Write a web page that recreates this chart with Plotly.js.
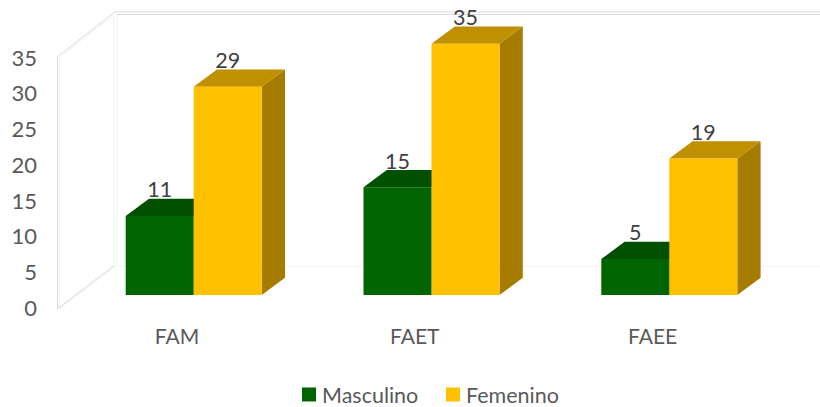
<!DOCTYPE html>
<html>
<head>
<meta charset="utf-8">
<script src="https://cdn.plot.ly/plotly-3.0.1.min.js"></script>
<style>html,body{margin:0;padding:0;background:#fff}#chart{width:820px;height:407px}</style>
</head>
<body>
<div id="chart"></div>
<script>
const categories = ['FAM', 'FAET', 'FAEE'];
const masculino = [11, 15, 5];
const femenino = [29, 35, 19];
const axisTicks = [0, 5, 10, 15, 20, 25, 30, 35];

const W = 820, H = 407;
const groupPx = 237.8, originX = 193.7;
const unitPx = 7.18, originY = 295;
const barW = 68 / groupPx;
const depthX = 23.3 / groupPx, depthY = 17.3 / unitPx;

const xRange = [-originX / groupPx, (W - originX) / groupPx];
const yRange = [(originY - H) / unitPx, originY / unitPx];
const idx = categories.map((_, i) => i);

function faces(values, left, kind) {
  const xs = [], ys = [];
  values.forEach((v, i) => {
    const a = i + left, b = a + barW;
    if (kind === 'top') {
      xs.push(a, b, b + depthX, a + depthX, a, null);
      ys.push(v, v, v + depthY, v + depthY, v, null);
    } else {
      xs.push(b, b + depthX, b + depthX, b, b, null);
      ys.push(0, depthY, v + depthY, v, 0, null);
    }
  });
  return [xs, ys];
}
function face(values, left, kind, color) {
  const [x, y] = faces(values, left, kind);
  return {type: 'scatter', mode: 'lines', x, y, fill: 'toself', fillcolor: color,
    line: {width: 0, color}, hoverinfo: 'skip', showlegend: false, xaxis: 'x', yaxis: 'y'};
}
function bar(name, values, off, color) {
  return {type: 'bar', name, x: idx, y: values, width: barW, offset: off,
    marker: {color, line: {width: 0}}, xaxis: 'x2', yaxis: 'y2'};
}
function labels(values, center) {
  return {type: 'scatter', mode: 'text', x: idx.map(i => i + center), y: values.map(v => v + depthY - 0.55),
    text: values.map(String), textposition: 'top center',
    textfont: {family: 'Lato, sans-serif', size: 21.5, color: '#404040'},
    hoverinfo: 'skip', showlegend: false, xaxis: 'x2', yaxis: 'y2'};
}

const traces = [
  face(masculino, -barW, 'side', '#004a00'),
  face(masculino, -barW, 'top', '#005000'),
  face(femenino, 0, 'side', '#a57c00'),
  face(femenino, 0, 'top', '#bf9000'),
  bar('Masculino', masculino, -barW, '#006400'),
  bar('Femenino', femenino, 0, '#ffc000'),
  labels(masculino, -barW / 2),
  labels(femenino, barW / 2),
  {type: 'scatter', mode: 'markers', x: categories, y: axisTicks.slice(0, 3), marker: {opacity: 0},
   hoverinfo: 'skip', showlegend: false, xaxis: 'x3', yaxis: 'y3'}
];

const px = (x) => x / W, py = (y) => 1 - y / H;
function seg(x0, y0, x1, y1, color, width) {
  return {type: 'line', xref: 'paper', yref: 'paper', layer: 'below',
    x0: px(x0), y0: py(y0), x1: px(x1), y1: py(y1), line: {color, width: width || 1}};
}
const wallColor = '#d9d9d9', faint = '#f2f2f2';
const shapes = [
  seg(115, 12, W, 12, wallColor), seg(117, 14.5, W, 14.5, wallColor),
  seg(57.5, 57, 57.5, 309, wallColor), seg(59.5, 58, 59.5, 308, faint),
  seg(57, 57, 115, 12, wallColor), seg(59, 58, 114, 15, faint),
  seg(57, 309, 115, 265, wallColor), seg(59, 309, 115, 267, faint),
  seg(113.5, 15, 113.5, 264, faint), seg(117, 15, 117, 265, faint),
  seg(117, 266, W, 266, faint)
];

const tickScale = 250 / 35, tickZero = 308;
const layout = {
  width: W, height: H, autosize: false,
  margin: {l: 0, r: 0, t: 0, b: 0, pad: 0, autoexpand: false},
  paper_bgcolor: '#fff', plot_bgcolor: 'rgba(0,0,0,0)',
  barmode: 'overlay',
  xaxis: {range: xRange, visible: false, fixedrange: true},
  yaxis: {range: yRange, visible: false, fixedrange: true},
  xaxis2: {range: xRange, visible: false, overlaying: 'x', fixedrange: true, anchor: 'y2'},
  yaxis2: {range: yRange, visible: false, overlaying: 'y', fixedrange: true, anchor: 'x2'},
  xaxis3: {type: 'category', categoryorder: 'array', categoryarray: categories,
    range: [-177 / groupPx, (W - 177) / groupPx], overlaying: 'x', anchor: 'free', position: py(322),
    showgrid: false, showline: false, zeroline: false, ticks: '', fixedrange: true,
    tickfont: {family: 'Lato, sans-serif', size: 21, color: '#595959'}},
  yaxis3: {range: [(tickZero - H) / tickScale, tickZero / tickScale], overlaying: 'y', anchor: 'free', position: px(37),
    tickvals: axisTicks, ticktext: axisTicks.map(String), showgrid: false, showline: false, zeroline: false,
    ticks: '', fixedrange: true, tickfont: {family: 'Lato, sans-serif', size: 22, color: '#595959'}},
  showlegend: true,
  legend: {orientation: 'h', x: 289 / W, xanchor: 'left', y: py(374), yanchor: 'top',
    entrywidth: 99, entrywidthmode: 'pixels',
    font: {family: 'Lato, sans-serif', size: 21.5, color: '#595959'},
    bgcolor: 'rgba(0,0,0,0)', itemclick: false, itemdoubleclick: false},
  shapes
};
Plotly.newPlot('chart', traces, layout, {displayModeBar: false}).then(gd => {
  gd.querySelectorAll('.legend .legendtext').forEach(t => t.setAttribute('x', 33));
  gd.querySelectorAll('.legend .legendpoints path').forEach(p => p.setAttribute('d', 'M7,7H-7V-7H7Z'));
});
</script>
</body>
</html>
